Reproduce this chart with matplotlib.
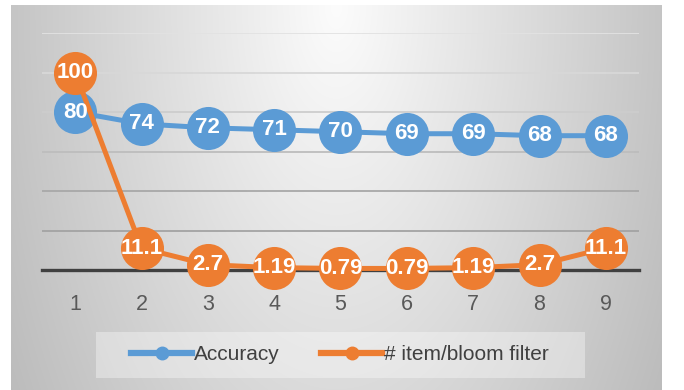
import numpy as np
import matplotlib.pyplot as plt
from matplotlib.patches import Rectangle
from matplotlib.lines import Line2D

categories = ['1', '2', '3', '4', '5', '6', '7', '8', '9']
accuracy = [80, 74, 72, 71, 70, 69, 69, 68, 68]
accuracy_labels = ['80', '74', '72', '71', '70', '69', '69', '68', '68']
bloom = [100, 11.1, 2.7, 1.19, 0.79, 0.79, 1.19, 2.7, 11.1]
bloom_labels = ['100', '11.1', '2.7', '1.19', '0.79', '0.79', '1.19', '2.7', '11.1']
grid_values = [20, 40, 60, 80, 100, 120]
grid_colors = ['#a3a3a3', '#a8a8a8', '#bdbdbd', '#cdcdcd', '#d8d8d8', '#e2e2e2']

BLUE = '#5b9bd5'
ORANGE = '#ed7d31'
FONT = ['Liberation Sans', 'DejaVu Sans']

W, H = 684, 390
fig = plt.figure(figsize=(W / 100, H / 100), dpi=100)
fig.patch.set_facecolor('white')

# gradient background of the chart box
bg = fig.add_axes([11 / W, 0, (662 - 11) / W, (390 - 5) / H])
bg.set_axis_off()
yy, xx = np.mgrid[0:1:200j, -1:1:400j]
d = np.sqrt(xx ** 2 + (0.6 * yy) ** 2)
g = np.clip(252 - 55 * d, 0, 255) / 255
img = np.dstack([g, g, g])
bg.imshow(img, aspect='auto', extent=[0, 1, 1, 0], interpolation='bilinear')
bg.set_xlim(0, 1)
bg.set_ylim(1, 0)

# legend background
fig.patches.append(Rectangle((96 / W, 1 - 378 / H), (585 - 96) / W, 46 / H,
                             transform=fig.transFigure, facecolor='white',
                             alpha=0.35, edgecolor='none', zorder=1))

ax = fig.add_axes([42 / W, 1 - 270 / H, (639 - 42) / W, (270 - 33) / H])
ax.patch.set_alpha(0)
x = np.arange(1, len(categories) + 1)
ax.set_xlim(0.5, len(categories) + 0.5)
ax.set_ylim(0, 120)

for v, c in zip(grid_values, grid_colors):
    ax.axhline(v, color=c, lw=1.3, zorder=1)
ax.axhline(0, color='#404040', lw=2.4, zorder=2, clip_on=False)

ax.plot(x, accuracy, color=BLUE, lw=3.6, marker='o', markersize=31,
        markeredgewidth=0, zorder=3, clip_on=False)
ax.plot(x, bloom, color=ORANGE, lw=3.6, marker='o', markersize=31,
        markeredgewidth=0, zorder=4, clip_on=False)

for xi, v, t in zip(x, accuracy, accuracy_labels):
    ax.text(xi, v, t, color='white', fontsize=16, fontweight='bold',
            family=FONT, ha='center', va='center', zorder=5)
for xi, v, t in zip(x, bloom, bloom_labels):
    ax.text(xi, v, t, color='white', fontsize=16, fontweight='bold',
            family=FONT, ha='center', va='center', zorder=6)

ax.set_xticks(x)
ax.set_xticklabels(categories, family=FONT, fontsize=15.5, color='#595959')
ax.tick_params(axis='x', length=0, pad=17)
ax.set_yticks([])
for s in ax.spines.values():
    s.set_visible(False)

handles = [Line2D([], [], color=BLUE, lw=4.5, marker='o', markersize=9),
           Line2D([], [], color=ORANGE, lw=4.5, marker='o', markersize=9)]
fig.legend(handles, ['Accuracy', '# item/bloom filter'],
           loc='center', bbox_to_anchor=(340 / W, 1 - 355 / H), ncol=2,
           frameon=False, handlelength=2.9, columnspacing=2.0,
           handletextpad=0.1, prop={'family': FONT, 'size': 15},
           labelcolor='#404040')

fig.savefig('out.png', dpi=100)
